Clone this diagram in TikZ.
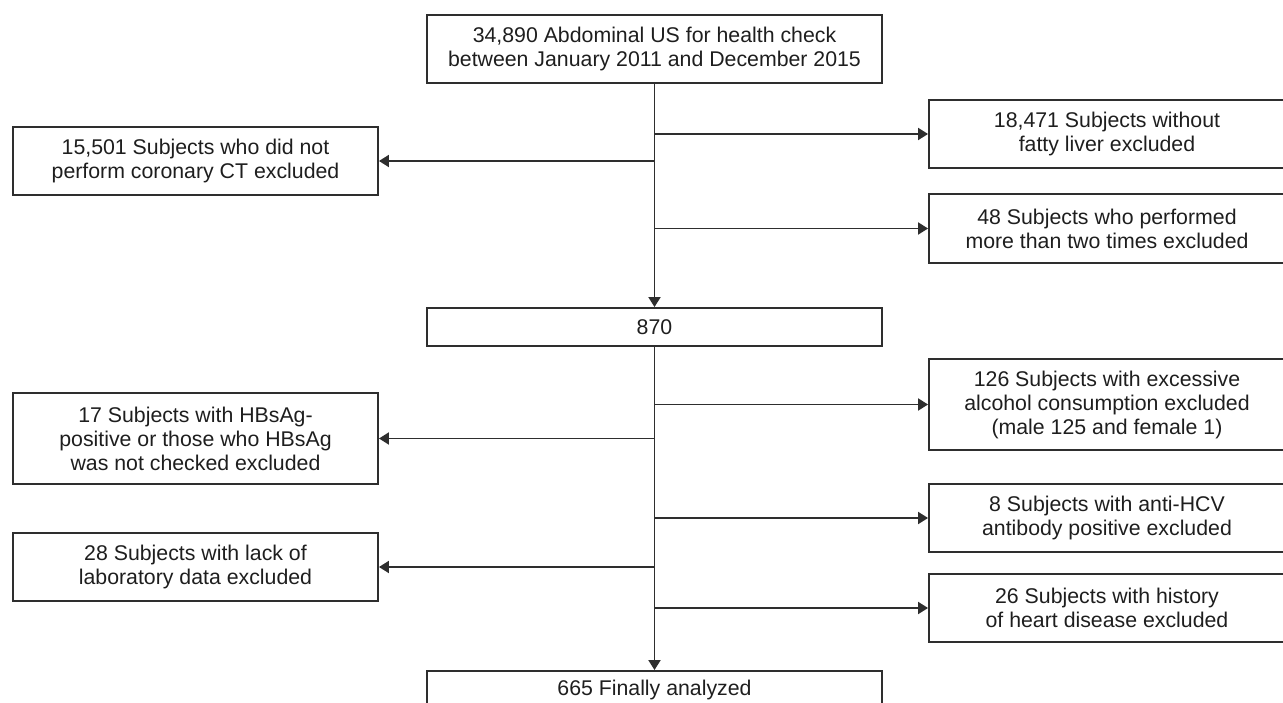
\documentclass[tikz,border=0pt]{standalone}
\usepackage{fontspec}
\setmainfont{Liberation Sans}
\usetikzlibrary{arrows.meta,calc}
\definecolor{ink}{HTML}{2E2E2E}
\definecolor{txt}{HTML}{1E1E1E}
\tikzset{
  box/.style={draw=ink, line width=1.9pt, inner sep=0pt, align=center, text=txt,
    font=\fontsize{21.3}{24}\selectfont},
  flow/.style={draw=ink, line width=1.9pt, -{Triangle[length=10pt,width=12pt]}},
  plain/.style={draw=ink, line width=1.9pt}
}
\begin{document}
\begin{tikzpicture}[x=1pt,y=-1pt]
\useasboundingbox (0,0) rectangle (1283,703);
\clip (0,0) rectangle (1283,703);
\node[box, minimum width=455pt, minimum height=68pt] (top) at (654.5,49)
  {34,890 Abdominal US for health check\\between January 2011 and December 2015};
\node[box, minimum width=455pt, minimum height=38pt] (n870) at (654.5,327) {870};
\node[box, minimum width=455pt, minimum height=38pt] (final) at (654.5,690) {665 Finally analyzed};
\node[box, minimum width=356pt, minimum height=68pt] (r1) at (1107,134)
  {18,471 Subjects without\\fatty liver excluded};
\node[box, minimum width=356pt, minimum height=69pt] (r2) at (1107,228.5)
  {48 Subjects who performed\\more than two times excluded};
\node[box, minimum width=356pt, minimum height=91pt] (r3) at (1107,404.5)
  {126 Subjects with excessive\\alcohol consumption excluded\\(male 125 and female 1)};
\node[box, minimum width=356pt, minimum height=68pt] (r4) at (1107,518)
  {8 Subjects with anti-HCV\\antibody positive excluded};
\node[box, minimum width=356pt, minimum height=68pt] (r5) at (1107,608)
  {26 Subjects with history\\of heart disease excluded};
\node[box, minimum width=365pt, minimum height=68pt] (l1) at (195.5,161)
  {15,501 Subjects who did not\\perform coronary CT excluded};
\node[box, minimum width=365pt, minimum height=91pt] (l2) at (195.5,438.5)
  {17 Subjects with HBsAg-\\positive or those who HBsAg\\was not checked excluded};
\node[box, minimum width=365pt, minimum height=68pt] (l3) at (195.5,567)
  {28 Subjects with lack of\\laboratory data excluded};
\draw[flow] (top.south) -- (n870.north);
\draw[flow] (n870.south) -- (final.north);
\draw[flow] (top.south |- r1.west) -- (r1.west);
\draw[flow] (top.south |- r2.west) -- (r2.west);
\draw[flow] (top.south |- l1.east) -- (l1.east);
\draw[flow] (n870.south |- r3.west) -- (r3.west);
\draw[flow] (n870.south |- r4.west) -- (r4.west);
\draw[flow] (n870.south |- r5.west) -- (r5.west);
\draw[flow] (n870.south |- l2.east) -- (l2.east);
\draw[flow] (n870.south |- l3.east) -- (l3.east);
\end{tikzpicture}
\end{document}
